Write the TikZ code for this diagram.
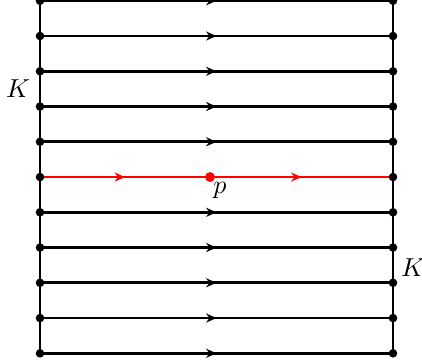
\documentclass[tikz,border=0pt]{standalone}
\usetikzlibrary{decorations.markings,arrows.meta}
\begin{document}
\begin{tikzpicture}[x=0.385pt,y=-0.385pt,
  leaf/.style={line width=1pt,postaction={decorate},decoration={markings,mark=at position 0.5 with {\arrow{Stealth[length=4pt,width=3.5pt]}}}},
  redleaf/.style={red,line width=1pt,postaction={decorate},decoration={markings,mark=at position 0.5 with {\arrow{Stealth[length=4pt,width=3.5pt]}}}},
  dotb/.style={circle,fill=black,inner sep=0pt,minimum size=3.3pt},
  dotr/.style={circle,fill=red,inner sep=0pt,minimum size=3.8pt}]
\useasboundingbox (0,0) rectangle (422,364);
\foreach \i in {0,...,10} {
  \coordinate (L\i) at (40,{0.8+35.25*\i});
  \coordinate (R\i) at (393,{0.8+35.25*\i});
}
\draw[line width=1pt] (L0) -- (L10);
\draw[line width=1pt] (R0) -- (R10);
\foreach \i in {0,1,2,3,4,6,7,8,9,10} {
  \draw[leaf] (L\i) -- (R\i);
}
\coordinate (P) at (210,{0.8+35.25*5});
\draw[redleaf] (L5) -- (P);
\draw[redleaf] (P) -- (R5);
\foreach \i in {0,...,10} {
  \node[dotb] (dl\i) at (L\i) {};
  \node[dotb] (dr\i) at (R\i) {};
}
\node[dotr] (p) at (P) {};
\node (plab) at (220,190) {$p$};
\node (kl) at (18,89) {$K$};
\node (kr) at (413,268) {$K$};
\end{tikzpicture}
\end{document}
